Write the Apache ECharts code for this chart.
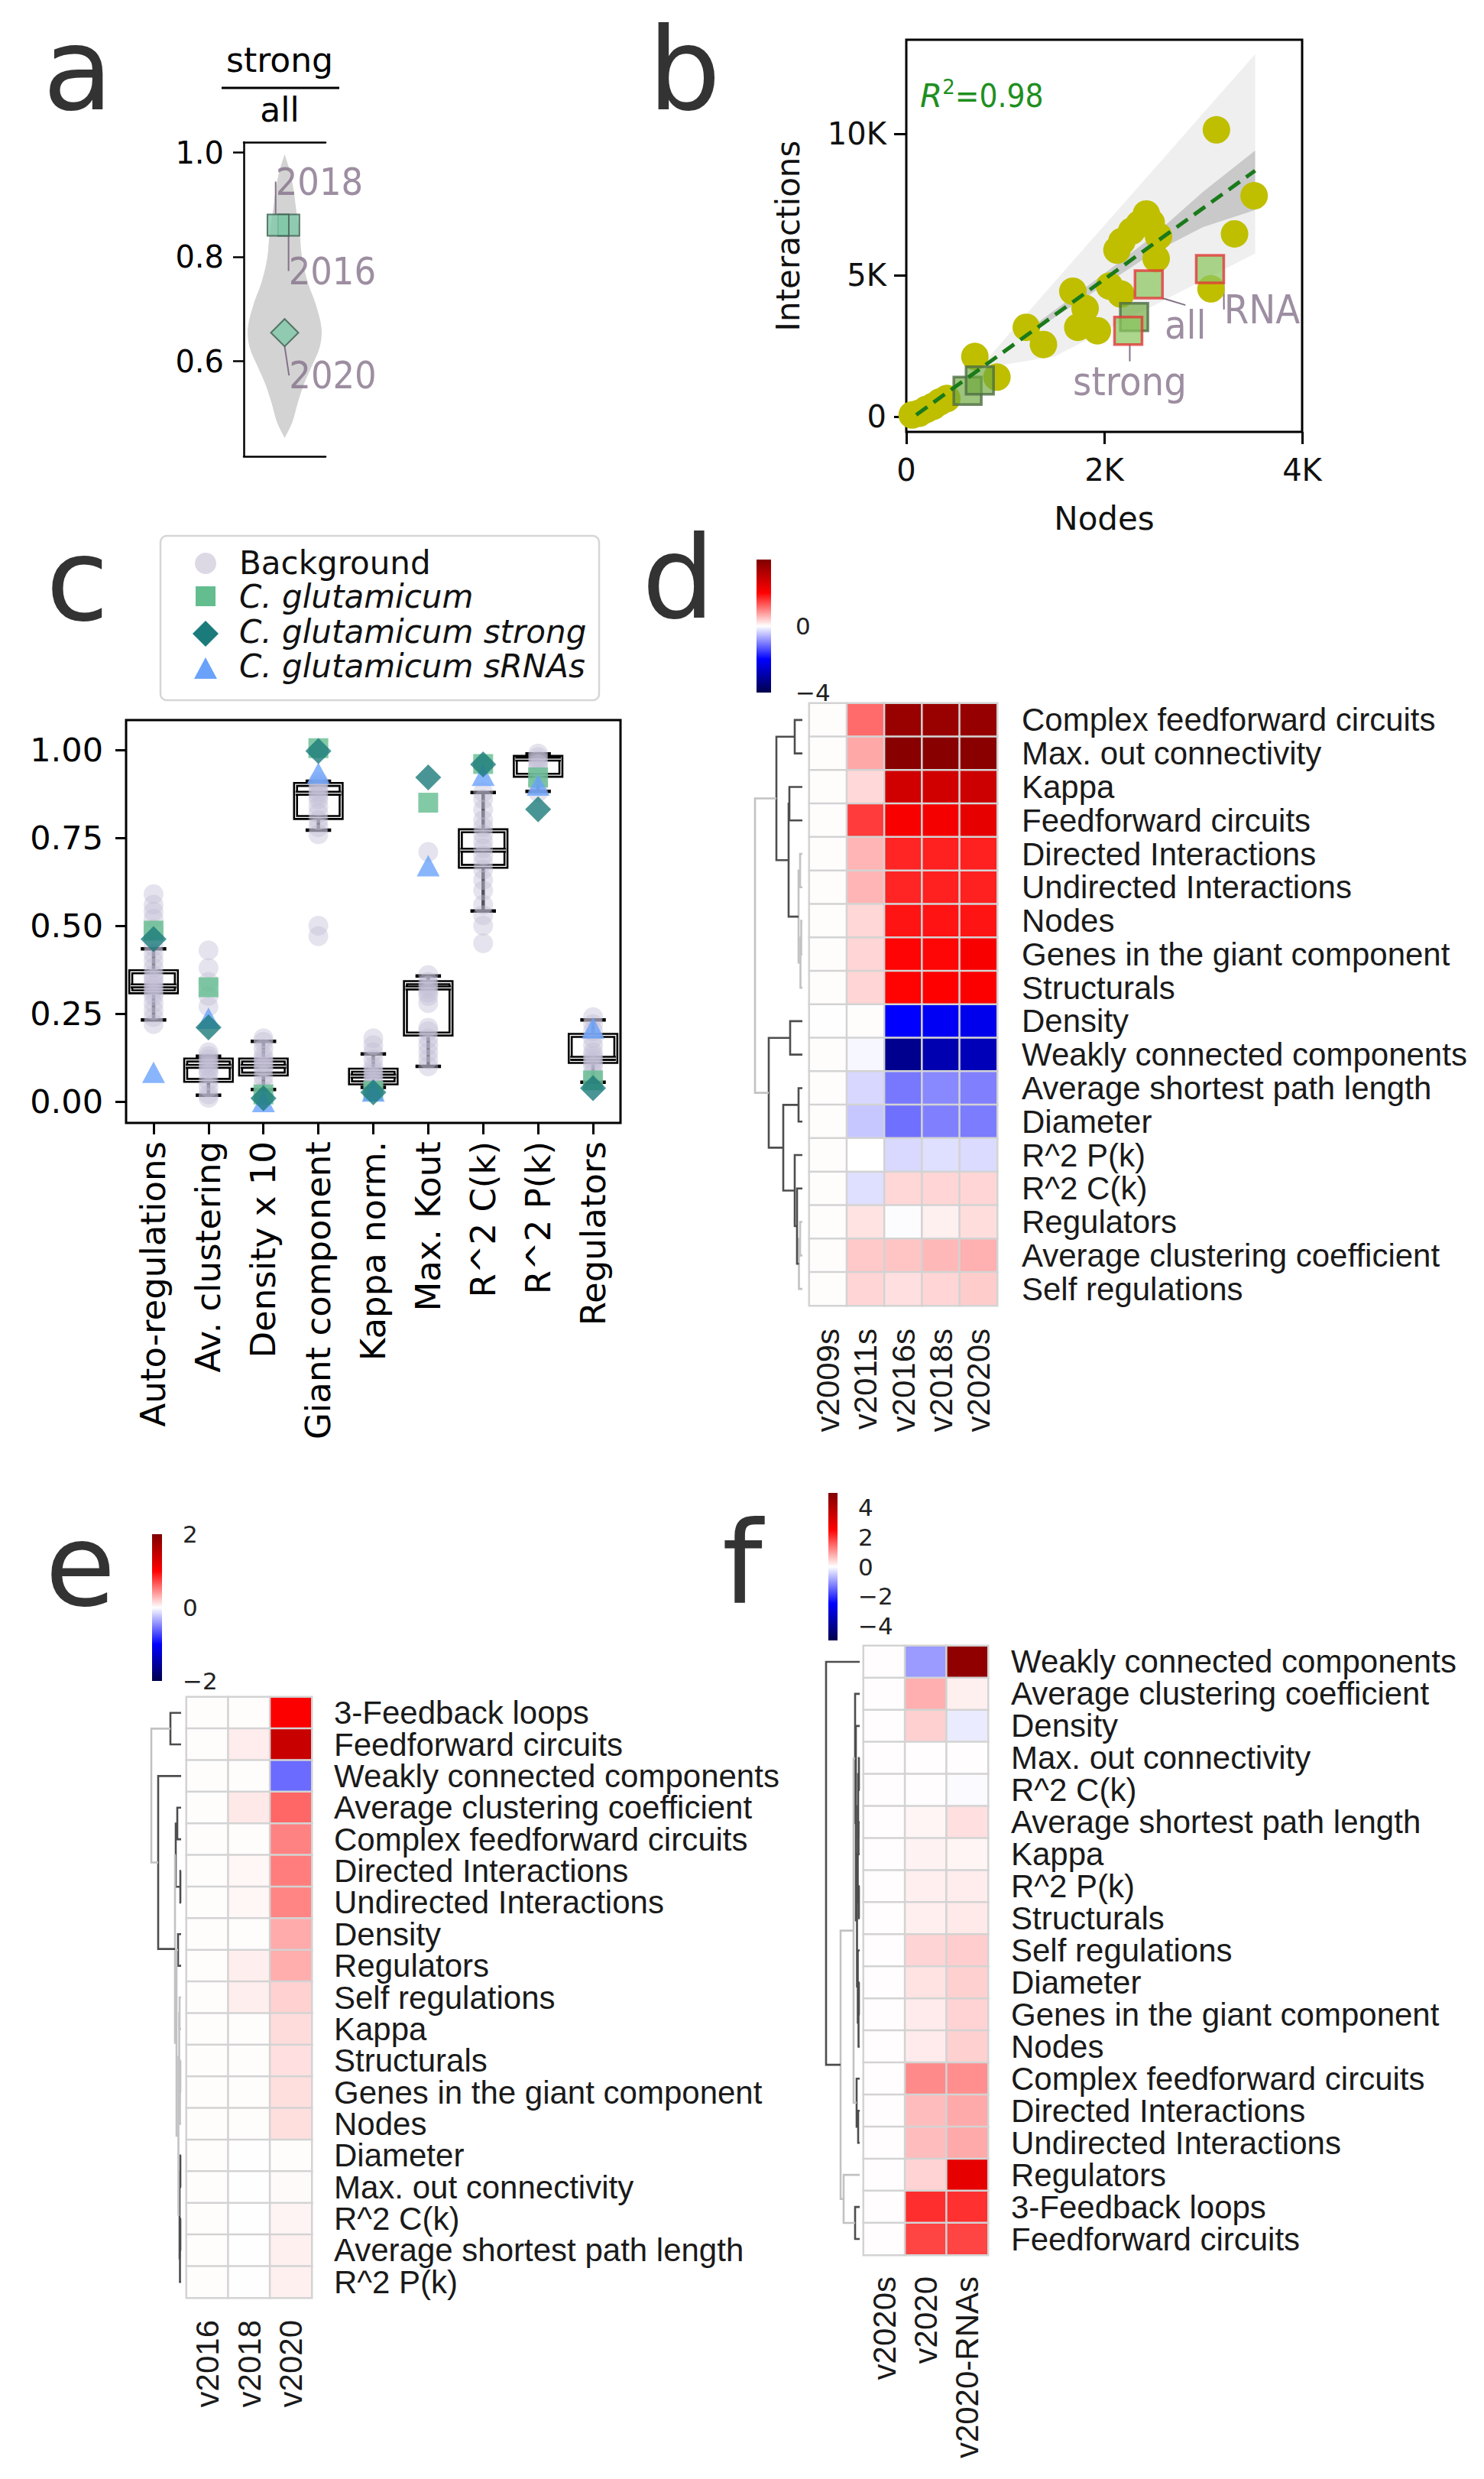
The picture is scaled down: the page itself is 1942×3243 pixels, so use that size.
<!DOCTYPE html>
<html><head><meta charset="utf-8">
<script src="https://cdn.jsdelivr.net/npm/echarts@6/dist/echarts.min.js"></script>
<style>html,body{margin:0;padding:0;background:#fff}#c{width:1942px;height:3243px}</style>
</head><body><div id="c"></div>
<script>
// ---------------- Panel a ----------------
const aViolinY = [0.997,0.964,0.928,0.892,0.844,0.796,0.748,0.712,0.664,0.628,0.592,0.556,0.52,0.484,0.453];
const aViolinHalfWidth = [0,0.13,0.22,0.28,0.37,0.43,0.58,0.75,0.9,0.86,0.67,0.47,0.32,0.19,0];
const aYears = ['2016','2018','2020'];
const aJitterX = [0.10,-0.16,0.0];
const aRatio = [0.861,0.861,0.655];
const aShape = ['rect','rect','diamond'];
const aTicks = [0.6,0.8,1.0];

// ---------------- Panel b ----------------
const bNodes = [60,130,200,270,340,410,693,916,1213,1386,1683,1807,1733,1931,2054,2168,2129,2178,2277,2351,2426,2475,2549,2525,3079,3134,3317,3515];
const bInter = [60,120,250,360,520,640,2125,1396,3156,2549,4431,3824,3156,3035,4613,4334,5888,6191,6556,6798,7163,6859,6374,5584,4516,10137,6458,7806];
const bStrainNodes = [619,743,2302,2243,2450,3069];
const bStrainInter = [910,1274,3519,3034,4672,5218];
const bStrainLabel = ['','','','strong','all','RNA'];
const bStrainRedEdge = [0,0,0,1,1,1];
const bFitX = [100,3525];
const bFitY = [62,8693];
const bPredX = [750,1500,2000,2500,3000,3525];
const bPredLow = [1700,2126,3025,3923,4822,5766];
const bPredHigh = [1760,4766,6752,8738,10723,12808];
const bConfX = [1300,2000,2500,3000,3525];
const bConfLow = [3050,4650,5800,6700,7300];
const bConfHigh = [3250,5050,6400,7950,9400];
const bXTicks = [0,2000,4000];
const bYTicks = [0,5000,10000];

// ---------------- Panel c ----------------
const cCats = ['Auto-regulations','Av. clustering','Density x 10','Giant component','Kappa norm.','Max. Kout','R^2 C(k)','R^2 P(k)','Regulators'];
const cBoxStats = [
  [0.232,0.312,0.329,0.369,0.434],
  [0.018,0.060,0.100,0.118,0.129],
  [0.034,0.078,0.100,0.118,0.171],
  [0.772,0.808,0.877,0.902,0.911],
  [0.040,0.053,0.072,0.089,0.135],
  [0.100,0.192,0.323,0.338,0.357],
  [0.542,0.669,0.715,0.770,0.879],
  [0.882,0.928,0.974,0.979,0.989],
  [0.055,0.114,0.123,0.188,0.232]
];
const cBackground = [
  [0.22,0.24,0.26,0.28,0.30,0.31,0.32,0.33,0.34,0.35,0.36,0.38,0.40,0.42,0.44,0.49,0.52,0.54,0.56,0.59],
  [0.01,0.02,0.04,0.06,0.08,0.09,0.10,0.11,0.12,0.13,0.14,0.27,0.30,0.34,0.38,0.43],
  [0.03,0.05,0.07,0.09,0.10,0.11,0.12,0.13,0.15,0.17,0.18],
  [0.47,0.50,0.76,0.78,0.80,0.82,0.84,0.86,0.87,0.88,0.89,0.90,0.91],
  [0.04,0.05,0.06,0.07,0.08,0.09,0.10,0.12,0.14,0.16,0.18],
  [0.10,0.12,0.14,0.16,0.18,0.20,0.21,0.28,0.30,0.31,0.32,0.33,0.34,0.36,0.71],
  [0.45,0.50,0.53,0.56,0.60,0.63,0.66,0.68,0.70,0.72,0.74,0.76,0.78,0.80,0.83,0.86,0.88],
  [0.88,0.90,0.93,0.95,0.96,0.97,0.98,0.99],
  [0.06,0.08,0.10,0.11,0.12,0.13,0.14,0.16,0.18,0.20,0.22,0.24]
];
const cAll = [0.486,0.325,0.02,1.005,0.03,0.85,0.96,0.922,0.06];
const cStrong = [0.462,0.211,0.009,0.997,0.026,0.922,0.959,0.831,0.038];
const cRNA = [0.083,0.237,0.0,0.934,0.03,0.671,0.928,0.90,0.209];
const cYTicks = [0,0.25,0.5,0.75,1.0];
const cLegend = ['Background','C. glutamicum','C. glutamicum strong','C. glutamicum sRNAs'];

// ---------------- Panel d ----------------
const dRows = ['Complex feedforward circuits','Max. out connectivity','Kappa','Feedforward circuits','Directed Interactions','Undirected Interactions','Nodes','Genes in the giant component','Structurals','Density','Weakly connected components','Average shortest path length','Diameter','R^2 P(k)','R^2 C(k)','Regulators','Average clustering coefficient','Self regulations'];
const dCols = ['v2009s','v2011s','v2016s','v2018s','v2020s'];
const dVals = [
  [0.02,1.16,3.60,3.60,3.65],
  [0.02,0.68,3.87,3.87,3.85],
  [0.02,0.30,2.74,2.74,2.80],
  [0.02,1.54,2.11,2.16,2.40],
  [0.02,0.58,1.71,1.75,1.75],
  [0.02,0.58,1.71,1.75,1.75],
  [0.02,0.31,1.84,1.85,1.84],
  [0.02,0.33,1.97,1.95,2.10],
  [0.02,0.33,1.98,2.00,2.05],
  [0.01,0.02,-2.00,-2.11,-2.20],
  [0.02,-0.06,-3.27,-2.89,-2.80],
  [0.02,-0.31,-1.06,-0.93,-1.00],
  [0.02,-0.44,-1.12,-1.00,-1.03],
  [0.02,0.00,-0.30,-0.25,-0.28],
  [0.02,-0.25,0.31,0.33,0.33],
  [0.02,0.23,-0.02,0.12,0.27],
  [0.02,0.42,0.46,0.56,0.62],
  [0.02,0.33,0.25,0.33,0.40]
];
// linkage: [childA, childB, height, dark]
const dLinkage = [
  [0,1,10,1],[2,3,17,1],[4,5,3,0],[6,7,1.5,0],[21,8,2.5,0],[20,22,5,0],
  [19,23,18,1],[18,24,34,1],[9,10,16,1],[11,12,5,1],[15,16,3,0],[28,17,4.5,0],
  [14,29,7,1],[13,30,10,1],[27,31,25,1],[26,32,44,1],[25,33,62,0]
];
const dTicks = [0,-4];

// ---------------- Panel e ----------------
const eRows = ['3-Feedback loops','Feedforward circuits','Weakly connected components','Average clustering coefficient','Complex feedforward circuits','Directed Interactions','Undirected Interactions','Density','Regulators','Self regulations','Kappa','Structurals','Genes in the giant component','Nodes','Diameter','Max. out connectivity','R^2 C(k)','Average shortest path length','R^2 P(k)'];
const eCols = ['v2016','v2018','v2020'];
const eVals = [
  [0.01,0.01,1.02],[0.01,0.075,1.43],[0.01,0.01,-0.58],[0.01,0.09,0.60],[0.01,0.01,0.49],
  [0.01,0.035,0.51],[0.01,0.035,0.48],[0.01,0.01,0.33],[0.01,0.067,0.32],[0.01,0.067,0.18],
  [0.01,0.01,0.137],[0.01,0.01,0.125],[0.01,0.01,0.13],[0.01,0.01,0.13],[0.01,0.005,0.01],
  [0.01,0.005,0.02],[0.01,0.005,0.045],[0.01,0.005,0.06],[0.01,0.005,0.06]
];
const eLinkage = [
  [0,1,14,1],[3,4,5,1],[5,6,1,1],[20,21,7,1],[7,8,4,1],[9,10,2,0],[11,12,1,0],[13,25,1.5,0],
  [24,26,2.5,0],[14,15,1,1],[16,17,1,1],[29,18,1.5,1],[28,30,2,1],[27,31,3.5,0],[23,32,6,0],
  [22,33,8,0],[2,34,30,1],[19,35,39,0]
];
const eTicks = [2,0,-2];

// ---------------- Panel f ----------------
const fRows = ['Weakly connected components','Average clustering coefficient','Density','Max. out connectivity','R^2 C(k)','Average shortest path length','Kappa','R^2 P(k)','Structurals','Self regulations','Diameter','Genes in the giant component','Nodes','Complex feedforward circuits','Directed Interactions','Undirected Interactions','Regulators','3-Feedback loops','Feedforward circuits'];
const fCols = ['v2020s','v2020','v2020-RNAs'];
const fVals = [
  [0.02,-0.99,4.68],[0.02,0.78,0.15],[0.02,0.46,-0.20],[0.02,0.02,0.02],[0.02,0.02,-0.05],
  [0.02,0.10,0.31],[0.02,0.13,0.10],[0.02,0.16,0.18],[0.02,0.16,0.22],[0.02,0.42,0.49],
  [0.02,0.27,0.46],[0.02,0.20,0.43],[0.02,0.20,0.46],[0.02,1.15,1.10],[0.02,0.66,0.83],
  [0.02,0.66,0.83],[0.02,0.43,3.00],[0.02,2.05,2.03],[0.02,1.83,1.83]
];
const fLinkage = [
  [3,4,1,1],[5,6,1.5,1],[7,8,1,1],[19,20,2,1],[21,22,2.5,1],[10,11,1,1],[24,12,1.5,1],
  [9,25,2.5,1],[23,26,3.5,1],[2,27,5,1],[1,28,6,1],[14,15,2,1],[13,30,4,1],[29,31,8,0],
  [17,18,6,1],[16,33,21,0],[32,34,25,0],[0,35,44,1]
];
const fTicks = [4,2,0,-2,-4];

// ================= build =================
const seismic = ['#00004d','#0000ff','#ffffff','#ff0000','#800000'];
const FONT = 'DejaVu Sans';
const HFONT = 'Liberation Sans';
const minus = v => v < 0 ? '\u2212' + Math.abs(v) : String(v);

function hmData(vals){const o=[];vals.forEach((row,r)=>row.forEach((v,c)=>o.push([c,r,v])));return o;}
function dendroSegs(n, links){
  const pos=[],hgt=[];for(let i=0;i<n;i++){pos[i]=i;hgt[i]=0;}
  const segs=[];
  links.forEach((L,k)=>{const [a,b,h,dark]=L;segs.push([hgt[a],pos[a],h,pos[b],hgt[b],dark]);pos[n+k]=(pos[a]+pos[b])/2;hgt[n+k]=h;});
  return segs;
}
const dendroRender = (params, api) => {
  const p1=api.coord([api.value(0),api.value(1)]), p2=api.coord([api.value(2),api.value(1)]);
  const p3=api.coord([api.value(2),api.value(3)]), p4=api.coord([api.value(4),api.value(3)]);
  return {type:'polyline',shape:{points:[p1,p2,p3,p4]},style:{stroke:api.value(5)?'#4d4d4d':'#c2c2c2',lineWidth:2.6,fill:null}};
};
const hidden = (g,min,max,inv)=>({gridIndex:g,type:'value',show:false,min,max,inverse:!!inv,splitLine:{show:false}});

const grids = [
  {left:319,top:186,width:107,height:411},            //0 a
  {left:1186,top:52,width:518,height:513,show:true,borderColor:'#000',borderWidth:3}, //1 b
  {left:165,top:942,width:647,height:527,show:true,borderColor:'#000',borderWidth:3}, //2 c
  {left:1059,top:920,width:246,height:788},           //3 d hm
  {left:985,top:920,width:65,height:788},             //4 d dendro
  {left:990,top:732,width:19,height:174},             //5 d cbar
  {left:244,top:2220,width:164,height:786},           //6 e hm
  {left:195,top:2220,width:42,height:786},            //7 e dendro
  {left:199,top:2007,width:13,height:192},            //8 e cbar
  {left:1130,top:2153,width:163,height:797},          //9 f hm
  {left:1075,top:2153,width:50,height:797},           //10 f dendro
  {left:1084,top:1953,width:12,height:193}            //11 f cbar
];

const hmX = (g,data,margin)=>({gridIndex:g,type:'category',data,position:'bottom',axisLine:{show:false},axisTick:{show:false},splitLine:{show:false},
  axisLabel:{interval:0,rotate:90,margin,fontFamily:HFONT,fontSize:42,color:'#1a1a1a'}});
const hmY = (g,data,margin)=>({gridIndex:g,type:'category',data,inverse:true,position:'right',axisLine:{show:false},axisTick:{show:false},splitLine:{show:false},
  axisLabel:{interval:0,margin,fontFamily:HFONT,fontSize:42,color:'#1a1a1a'}});
const cbY = (g,min,max,ticks,margin)=>({gridIndex:g,type:'value',min,max,position:'right',axisLine:{show:false},axisTick:{show:false},splitLine:{show:false},
  axisLabel:{customValues:ticks,margin,fontFamily:FONT,fontSize:31,color:'#222',formatter:minus}});

const xAxes = [
  {gridIndex:0,type:'value',min:-1,max:1,position:'bottom',axisLine:{show:true,onZero:false,lineStyle:{color:'#000',width:2.5}},axisTick:{show:false},axisLabel:{show:false},splitLine:{show:false}},
  {gridIndex:0,type:'value',min:-1,max:1,position:'top',axisLine:{show:true,onZero:false,lineStyle:{color:'#000',width:2.5}},axisTick:{show:false},axisLabel:{show:false},splitLine:{show:false}},
  {gridIndex:1,type:'value',min:0,max:4000,axisLine:{show:false,onZero:false},splitLine:{show:false},
    axisTick:{show:true,customValues:bXTicks,length:16,lineStyle:{color:'#000',width:3}},
    axisLabel:{customValues:bXTicks,margin:30,fontFamily:FONT,fontSize:40,color:'#111',formatter:v=>v===0?'0':(v/1000)+'K'},
    name:'Nodes',nameLocation:'middle',nameGap:92,nameTextStyle:{fontFamily:FONT,fontSize:42,color:'#111'}},
  {gridIndex:2,type:'category',data:cCats,axisLine:{show:false,onZero:false},splitLine:{show:false},
    axisTick:{show:true,alignWithLabel:true,length:15,lineStyle:{color:'#000',width:3}},
    axisLabel:{interval:0,rotate:90,margin:24,fontFamily:FONT,fontSize:45,color:'#000'}},
  hmX(3,dCols,30), hidden(4,0,65,true), hidden(5,0,1),
  hmX(6,eCols,29), hidden(7,0,42,true), hidden(8,0,1),
  hmX(9,fCols,28), hidden(10,0,50,true), hidden(11,0,1)
];
const yAxes = [
  {gridIndex:0,type:'value',min:0.418,max:1.02,axisLine:{show:true,onZero:false,lineStyle:{color:'#000',width:2.5}},splitLine:{show:false},
    axisTick:{show:true,customValues:aTicks,length:14,lineStyle:{color:'#000',width:2.5}},
    axisLabel:{customValues:aTicks,margin:26,fontFamily:FONT,fontSize:40,color:'#000',formatter:v=>v.toFixed(1)}},
  {gridIndex:1,type:'value',min:-540,max:13320,axisLine:{show:false,onZero:false},splitLine:{show:false},
    axisTick:{show:true,customValues:bYTicks,length:16,lineStyle:{color:'#000',width:3}},
    axisLabel:{customValues:bYTicks,margin:26,fontFamily:FONT,fontSize:40,color:'#111',formatter:v=>v===0?'0':(v/1000)+'K'},
    name:'Interactions',nameLocation:'middle',nameRotate:90,nameGap:134,nameTextStyle:{fontFamily:FONT,fontSize:42,color:'#111'}},
  {gridIndex:2,type:'value',min:-0.061,max:1.085,axisLine:{show:false,onZero:false},splitLine:{show:false},
    axisTick:{show:true,customValues:cYTicks,length:14,lineStyle:{color:'#000',width:3}},
    axisLabel:{customValues:cYTicks,margin:30,fontFamily:FONT,fontSize:43,color:'#000',formatter:v=>v.toFixed(2)}},
  hmY(3,dRows,32), hidden(4,-0.5,dRows.length-0.5,true), cbY(5,-4,4,dTicks,32),
  hmY(6,eRows,29), hidden(7,-0.5,eRows.length-0.5,true), cbY(8,-2,2,eTicks,27),
  hmY(9,fRows,30), hidden(10,-0.5,fRows.length-0.5,true), cbY(11,-5,5,fTicks,27)
];

const series = [];
// a: violin
series.push({type:'custom',xAxisIndex:0,yAxisIndex:0,data:[[0,0]],silent:true,
  renderItem:(params,api)=>{
    const pts=[];
    for(let i=0;i<aViolinY.length;i++) pts.push(api.coord([aViolinHalfWidth[i],aViolinY[i]]));
    for(let i=aViolinY.length-1;i>=0;i--) pts.push(api.coord([-aViolinHalfWidth[i],aViolinY[i]]));
    return {type:'polygon',shape:{points:pts,smooth:0.35},style:{fill:'#d3d3d3',stroke:null}};
  }});
const aOff = [[57,60],[54,-57],[63,56]];
series.push({type:'scatter',xAxisIndex:0,yAxisIndex:0,
  data:aYears.map((y,i)=>({name:y,value:[aJitterX[i],aRatio[i]],symbol:aShape[i],symbolSize:aShape[i]==='rect'?28:36})),
  itemStyle:{color:'#7fc8a8',borderColor:'#3c5c50',borderWidth:2},
  label:{show:true,position:'inside',formatter:'{b}',fontFamily:'Liberation Sans Narrow, DejaVu Sans Condensed',fontSize:50,color:'#84728a'},
  labelLayout:p=>({dx:aOff[p.dataIndex][0],dy:aOff[p.dataIndex][1]}),
  labelLine:{show:true,lineStyle:{color:'#84728a',width:2}}
});
// b bands
const bandRender=(X,L,H,fill)=>(params,api)=>{
  const pts=[];for(let i=0;i<X.length;i++)pts.push(api.coord([X[i],H[i]]));
  for(let i=X.length-1;i>=0;i--)pts.push(api.coord([X[i],L[i]]));
  return {type:'polygon',shape:{points:pts},style:{fill,stroke:null}};
};
series.push({type:'custom',xAxisIndex:2,yAxisIndex:1,data:[[0,0]],silent:true,renderItem:bandRender(bPredX,bPredLow,bPredHigh,'#efefef')});
series.push({type:'custom',xAxisIndex:2,yAxisIndex:1,data:[[0,0]],silent:true,renderItem:bandRender(bConfX,bConfLow,bConfHigh,'#c9c9c9')});
series.push({type:'scatter',xAxisIndex:2,yAxisIndex:1,data:bNodes.map((n,i)=>[n,bInter[i]]),symbolSize:36,itemStyle:{color:'#bfbf00',opacity:1}});
series.push({type:'line',xAxisIndex:2,yAxisIndex:1,data:bFitX.map((x,i)=>[x,bFitY[i]]),symbol:'none',lineStyle:{color:'#1a7a1a',width:5,type:[18,10]}});
const bOff = {3:[2,66],4:[48,53],5:[68,53]};
series.push({type:'scatter',xAxisIndex:2,yAxisIndex:1,symbol:'rect',symbolSize:36,
  data:bStrainNodes.map((n,i)=>({name:bStrainLabel[i],value:[n,bStrainInter[i]],
    itemStyle:bStrainRedEdge[i]?{color:'rgba(138,198,96,0.9)',borderColor:'#e23838',borderWidth:3.5}:{color:'rgba(110,168,62,0.85)',borderColor:'#4f6e45',borderWidth:3.5}})),
  label:{show:true,position:'inside',formatter:'{b}',fontFamily:'DejaVu Sans Condensed',fontSize:52,color:'#84728a'},
  labelLayout:p=>bOff[p.dataIndex]?{dx:bOff[p.dataIndex][0],dy:bOff[p.dataIndex][1]}:{},
  labelLine:{show:true,lineStyle:{color:'#84728a',width:2}}
});
// c
const cBgData=[];cBackground.forEach((arr,i)=>arr.forEach(v=>cBgData.push([i,v])));
series.push({type:'scatter',xAxisIndex:3,yAxisIndex:2,data:cBgData,symbolSize:26,itemStyle:{color:'rgba(196,191,213,0.55)'}});
series.push({type:'custom',xAxisIndex:3,yAxisIndex:2,data:cBoxStats.map((s,i)=>[i].concat(s)),
  renderItem:(params,api)=>{
    const c=api.value(0);const v=[1,2,3,4,5].map(k=>api.value(k));
    const x=api.coord([c,0])[0];const y=t=>api.coord([c,t])[1];
    const bw=api.size([1,0])[0]*0.83, cw=bw*0.56;
    const blk={stroke:'#000',lineWidth:4.5,fill:null};
    const dbl=(shape,type)=>[{type,shape,style:{stroke:'#000',lineWidth:6.5,fill:null}},{type,shape,style:{stroke:'#fff',lineWidth:1.3,fill:null}}];
    return {type:'group',children:[
      {type:'line',shape:{x1:x,y1:y(v[3]),x2:x,y2:y(v[4])},style:blk},
      {type:'line',shape:{x1:x,y1:y(v[1]),x2:x,y2:y(v[0])},style:blk},
      {type:'line',shape:{x1:x-cw/2,y1:y(v[4]),x2:x+cw/2,y2:y(v[4])},style:blk},
      {type:'line',shape:{x1:x-cw/2,y1:y(v[0]),x2:x+cw/2,y2:y(v[0])},style:blk},
      ...dbl({x:x-bw/2,y:y(v[3]),width:bw,height:y(v[1])-y(v[3])},'rect'),
      ...dbl({x1:x-bw/2,y1:y(v[2]),x2:x+bw/2,y2:y(v[2])},'line')
    ]};
  }});
series.push({type:'scatter',xAxisIndex:3,yAxisIndex:2,data:cAll.map((v,i)=>[i,v]),symbol:'rect',symbolSize:26,itemStyle:{color:'#63bd8f'}});
series.push({type:'scatter',xAxisIndex:3,yAxisIndex:2,data:cRNA.map((v,i)=>[i,v]),symbol:'triangle',symbolSize:[30,28],itemStyle:{color:'#6aa2fb'}});
series.push({type:'scatter',xAxisIndex:3,yAxisIndex:2,data:cStrong.map((v,i)=>[i,v]),symbol:'diamond',symbolSize:34,itemStyle:{color:'#1b7b7b'}});
// heatmaps
const hmIdx=[];
function addHeat(xi,yi,vals){hmIdx.push(series.length);series.push({type:'heatmap',xAxisIndex:xi,yAxisIndex:yi,data:hmData(vals),itemStyle:{borderColor:'#d3d3d3',borderWidth:2.5},progressive:0});}
addHeat(4,3,dVals);
series.push({type:'custom',xAxisIndex:5,yAxisIndex:4,data:dendroSegs(dRows.length,dLinkage),renderItem:dendroRender});
addHeat(7,6,eVals);
series.push({type:'custom',xAxisIndex:8,yAxisIndex:7,data:dendroSegs(eRows.length,eLinkage),renderItem:dendroRender});
addHeat(10,9,fVals);
series.push({type:'custom',xAxisIndex:11,yAxisIndex:10,data:dendroSegs(fRows.length,fLinkage),renderItem:dendroRender});

const vm=(si,min,max)=>({type:'continuous',show:false,seriesIndex:si,min,max,inRange:{color:seismic}});

// graphics
const grad={type:'linear',x:0,y:1,x2:0,y2:0,colorStops:[{offset:0,color:'#00004d'},{offset:0.25,color:'#0000ff'},{offset:0.5,color:'#ffffff'},{offset:0.75,color:'#ff0000'},{offset:1,color:'#800000'}]};
const graphic=[
  {type:'text',x:56,y:91,style:{text:'a',fontFamily:FONT,fontSize:150,fill:'#333',verticalAlign:'middle'}},
  {type:'text',x:848,y:91,style:{text:'b',fontFamily:FONT,fontSize:150,fill:'#333',verticalAlign:'middle'}},
  {type:'text',x:60,y:759,style:{text:'c',fontFamily:FONT,fontSize:150,fill:'#333',verticalAlign:'middle'}},
  {type:'text',x:840,y:756,style:{text:'d',fontFamily:FONT,fontSize:150,fill:'#333',verticalAlign:'middle'}},
  {type:'text',x:59,y:2048,style:{text:'e',fontFamily:FONT,fontSize:150,fill:'#333',verticalAlign:'middle'}},
  {type:'text',x:945,y:2045,style:{text:'f',fontFamily:FONT,fontSize:150,fill:'#333',verticalAlign:'middle'}},
  {type:'text',x:366,y:78,style:{text:'strong',fontFamily:FONT,fontSize:44,fill:'#000',align:'center',verticalAlign:'middle'}},
  {type:'line',shape:{x1:290,y1:115,x2:444,y2:115},style:{stroke:'#000',lineWidth:3}},
  {type:'text',x:366,y:143,style:{text:'all',fontFamily:FONT,fontSize:44,fill:'#000',align:'center',verticalAlign:'middle'}},
  {type:'text',x:1204,y:125,style:{text:'{r|R}{s|2}{n|=0.98}',verticalAlign:'middle',
    rich:{r:{fontFamily:FONT,fontStyle:'italic',fontSize:42,fill:'#1f8f1f'},s:{fontFamily:FONT,fontSize:26,fill:'#1f8f1f',padding:[0,0,22,0]},n:{fontFamily:'DejaVu Sans Condensed',fontSize:42,fill:'#1f8f1f'}}}},
  // legend c
  {type:'rect',shape:{x:210,y:701,width:574,height:215,r:8},style:{fill:'#fff',stroke:'#d6d6d6',lineWidth:2.5}},
  {type:'circle',shape:{cx:269,cy:737,r:14},style:{fill:'#dcd8e4'}},
  {type:'rect',shape:{x:256,y:767,width:26,height:26},style:{fill:'#63bd8f'}},
  {type:'polygon',shape:{points:[[269,812],[286,829],[269,846],[252,829]]},style:{fill:'#1b7b7b'}},
  {type:'polygon',shape:{points:[[269,860],[284,888],[254,888]]},style:{fill:'#6aa2fb'}},
  {type:'text',x:313,y:736,style:{text:cLegend[0],fontFamily:FONT,fontSize:42,fill:'#111',verticalAlign:'middle'}},
  {type:'text',x:313,y:780,style:{text:cLegend[1],fontFamily:FONT,fontStyle:'italic',fontSize:42,fill:'#111',verticalAlign:'middle'}},
  {type:'text',x:313,y:826,style:{text:cLegend[2],fontFamily:FONT,fontStyle:'italic',fontSize:42,fill:'#111',verticalAlign:'middle'}},
  {type:'text',x:313,y:871,style:{text:cLegend[3],fontFamily:FONT,fontStyle:'italic',fontSize:42,fill:'#111',verticalAlign:'middle'}},
  // colorbars
  {type:'rect',shape:{x:990,y:732,width:19,height:174},style:{fill:grad}},
  {type:'rect',shape:{x:199,y:2007,width:13,height:192},style:{fill:grad}},
  {type:'rect',shape:{x:1084,y:1953,width:12,height:193},style:{fill:grad}}
];

const chart=echarts.init(document.getElementById('c'),null,{renderer:'svg',width:1942,height:3243});
chart.setOption({
  animation:false,backgroundColor:'#fff',
  textStyle:{fontFamily:FONT},
  grid:grids,xAxis:xAxes,yAxis:yAxes,series,
  visualMap:[vm(hmIdx[0],-4,4),vm(hmIdx[1],-2,2),vm(hmIdx[2],-5,5)],
  graphic
});
</script></body></html>
